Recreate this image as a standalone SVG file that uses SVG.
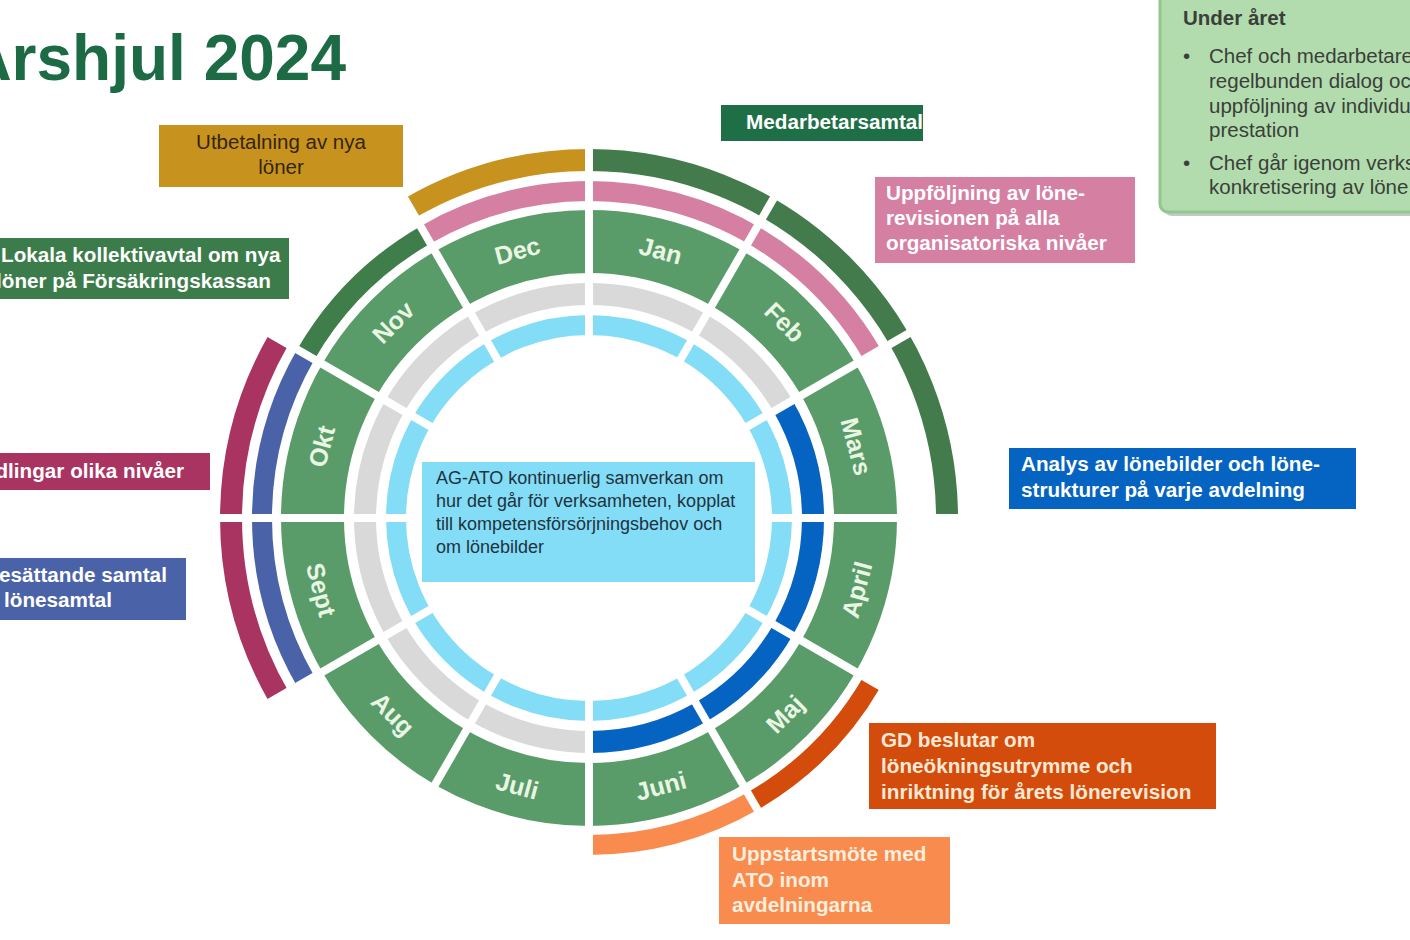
<svg xmlns="http://www.w3.org/2000/svg" width="1410" height="940" viewBox="0 0 1410 940">
<style>
.lbl{font-family:"Liberation Sans",Arial,sans-serif;font-size:20.7px;font-weight:bold;fill:#ffffff}
.reg{font-family:"Liberation Sans",Arial,sans-serif;font-size:20.5px}
.mon{font-family:"Liberation Sans",Arial,sans-serif;font-size:25px;font-weight:bold;fill:#e9f6e4;text-anchor:middle;dominant-baseline:central}
.ctr{font-family:"Liberation Sans",Arial,sans-serif;font-size:18px;fill:#1f3340}
.r1{fill:none;stroke-width:20}
.r2{fill:none;stroke-width:22}
.gap{stroke:#ffffff;stroke-width:8}
</style>
<rect width="1410" height="940" fill="#ffffff"/>
<text x="346" y="80" text-anchor="end" style="font-family:'Liberation Sans',Arial,sans-serif;font-size:64px;font-weight:bold;fill:#1d6b45">Årshjul 2024</text>

<g id="wheel">
  <circle cx="589" cy="518" r="193" fill="none" stroke="#84ddf6" stroke-width="20"/>
  <circle cx="589" cy="518" r="224" fill="none" stroke="#d9d9d9" stroke-width="22"/>
  <path d="M783 406 A224 224 0 0 1 589 742" fill="none" stroke="#0563c1" stroke-width="22"/>
  <circle cx="589" cy="518" r="276.5" fill="none" stroke="#599c69" stroke-width="63"/>
  <path class="r1" stroke="#d57fa3" d="M425.5 234.8 A327 327 0 0 1 872.2 354.5"/>
  <path class="r1" stroke="#3f7d4b" d="M305.8 354.5 A327 327 0 0 1 425.5 234.8"/>
  <path class="r1" stroke="#4a62a8" d="M305.8 681.5 A327 327 0 0 1 305.8 354.5"/>
  <path class="r1" stroke="#d34c0c" d="M872.2 681.5 A327 327 0 0 1 752.5 801.2"/>
  <path class="r1" stroke="#f88b4d" d="M752.5 801.2 A327 327 0 0 1 589 845"/>
  <path class="r2" stroke="#c8921e" d="M410 208 A358 358 0 0 1 589 160"/>
  <path class="r2" stroke="#437b4c" d="M589 160 A358 358 0 0 1 947 518"/>
  <path class="r2" stroke="#a93461" d="M279 697 A358 358 0 0 1 279 339"/>
</g>

<g id="connectors">
  <line class="gap" x1="589" y1="343" x2="589" y2="142"/>
  <line class="gap" x1="676.5" y1="366.4" x2="777" y2="192.4"/>
  <line class="gap" x1="740.6" y1="430.5" x2="914.6" y2="330"/>
  <line class="gap" x1="764" y1="518" x2="965" y2="518"/>
  <line class="gap" x1="740.6" y1="605.5" x2="914.6" y2="706"/>
  <line class="gap" x1="676.5" y1="669.6" x2="777" y2="843.6"/>
  <line class="gap" x1="589" y1="693" x2="589" y2="894"/>
  <line class="gap" x1="501.5" y1="669.6" x2="401" y2="843.6"/>
  <line class="gap" x1="437.4" y1="605.5" x2="263.4" y2="706"/>
  <line class="gap" x1="414" y1="518" x2="213" y2="518"/>
  <line class="gap" x1="437.4" y1="430.5" x2="263.4" y2="330"/>
  <line class="gap" x1="501.5" y1="366.4" x2="401" y2="192.4"/>
</g>

<g id="months">
  <text class="mon" transform="translate(660.7 250.4) rotate(15)">Jan</text>
  <text class="mon" transform="translate(784.9 322.1) rotate(45)">Feb</text>
  <text class="mon" transform="translate(856.6 446.3) rotate(75)">Mars</text>
  <text class="mon" transform="translate(856.6 589.7) rotate(-75)">April</text>
  <text class="mon" transform="translate(784.9 713.9) rotate(-45)">Maj</text>
  <text class="mon" transform="translate(660.7 785.6) rotate(-15)">Juni</text>
  <text class="mon" transform="translate(517.3 785.6) rotate(15)">Juli</text>
  <text class="mon" transform="translate(393.1 713.9) rotate(45)">Aug</text>
  <text class="mon" transform="translate(321.4 589.7) rotate(75)">Sept</text>
  <text class="mon" transform="translate(321.4 446.3) rotate(-75)">Okt</text>
  <text class="mon" transform="translate(393.1 322.1) rotate(-45)">Nov</text>
  <text class="mon" transform="translate(517.3 250.4) rotate(-15)">Dec</text>
</g>

<g id="center">
  <rect x="422" y="462" width="333" height="120" fill="#84ddf6"/>
  <text class="ctr" x="436" y="484">AG-ATO kontinuerlig samverkan om</text>
  <text class="ctr" x="436" y="507">hur det går för verksamheten, kopplat</text>
  <text class="ctr" x="436" y="530">till kompetensförsörjningsbehov och</text>
  <text class="ctr" x="436" y="553">om lönebilder</text>
</g>

<g id="utbetalning">
  <rect x="159" y="125" width="244" height="62" fill="#c8921e"/>
  <text class="reg" style="fill:#33260e" x="281" y="149" text-anchor="middle">Utbetalning av nya</text>
  <text class="reg" style="fill:#33260e" x="281" y="174" text-anchor="middle">löner</text>
</g>

<g id="medarbetarsamtal">
  <rect x="721" y="105" width="202" height="36" fill="#1e6e46"/>
  <text class="lbl" x="746" y="129">Medarbetarsamtal</text>
</g>

<g id="uppfoljning">
  <rect x="875" y="177" width="260" height="86" fill="#d57fa3"/>
  <text class="lbl" x="886" y="200">Uppföljning av löne-</text>
  <text class="lbl" x="886" y="225">revisionen på alla</text>
  <text class="lbl" x="886" y="250">organisatoriska nivåer</text>
</g>

<g id="under-aret">
  <rect x="1164" y="-8" width="260" height="224" rx="8" fill="#9aa89a" opacity="0.6"/>
  <rect x="1160" y="-12" width="260" height="224" rx="8" fill="#b2dcad" stroke="#94c690" stroke-width="3"/>
  <text class="reg" style="font-weight:bold;fill:#3a3f3a" x="1183" y="25">Under året</text>
  <text class="reg" style="fill:#3a3f3a" x="1183" y="63">•</text>
  <text class="reg" style="fill:#3a3f3a" x="1209" y="63">Chef och medarbetare</text>
  <text class="reg" style="fill:#3a3f3a" x="1209" y="88">regelbunden dialog oc</text>
  <text class="reg" style="fill:#3a3f3a" x="1209" y="113">uppföljning av individu</text>
  <text class="reg" style="fill:#3a3f3a" x="1209" y="137">prestation</text>
  <text class="reg" style="fill:#3a3f3a" x="1183" y="170">•</text>
  <text class="reg" style="fill:#3a3f3a" x="1209" y="170">Chef går igenom verks</text>
  <text class="reg" style="fill:#3a3f3a" x="1209" y="194">konkretisering av löne</text>
</g>

<g id="lokala">
  <rect x="-5" y="238" width="294" height="61" fill="#3c7c4a"/>
  <text class="lbl" x="1" y="262">Lokala kollektivavtal om nya</text>
  <text class="lbl" x="-4" y="288">löner på Försäkringskassan</text>
</g>

<g id="forhandlingar">
  <rect x="-5" y="453" width="215" height="37" fill="#a93461"/>
  <text class="lbl" x="184" y="478" text-anchor="end">dlingar olika nivåer</text>
</g>

<g id="lonesattande">
  <rect x="-5" y="558" width="191" height="62" fill="#4a62a8"/>
  <text class="lbl" x="-1" y="582">esättande samtal</text>
  <text class="lbl" x="4" y="607">lönesamtal</text>
</g>

<g id="analys">
  <rect x="1009" y="448" width="347" height="61" fill="#0563c1"/>
  <text class="lbl" x="1021" y="471">Analys av lönebilder och löne-</text>
  <text class="lbl" x="1021" y="497">strukturer på varje avdelning</text>
</g>

<g id="gd">
  <rect x="869" y="723" width="347" height="86" fill="#d34c0c"/>
  <text class="lbl" style="fill:#fbe9d5" x="881" y="747">GD beslutar om</text>
  <text class="lbl" style="fill:#fbe9d5" x="881" y="773">löneökningsutrymme och</text>
  <text class="lbl" style="fill:#fbe9d5" x="881" y="799">inriktning för årets lönerevision</text>
</g>

<g id="uppstart">
  <rect x="719" y="837" width="231" height="87" fill="#f88b4d"/>
  <text class="lbl" style="fill:#fdeede" x="732" y="861">Uppstartsmöte med</text>
  <text class="lbl" style="fill:#fdeede" x="732" y="887">ATO inom</text>
  <text class="lbl" style="fill:#fdeede" x="732" y="912">avdelningarna</text>
</g>
</svg>
